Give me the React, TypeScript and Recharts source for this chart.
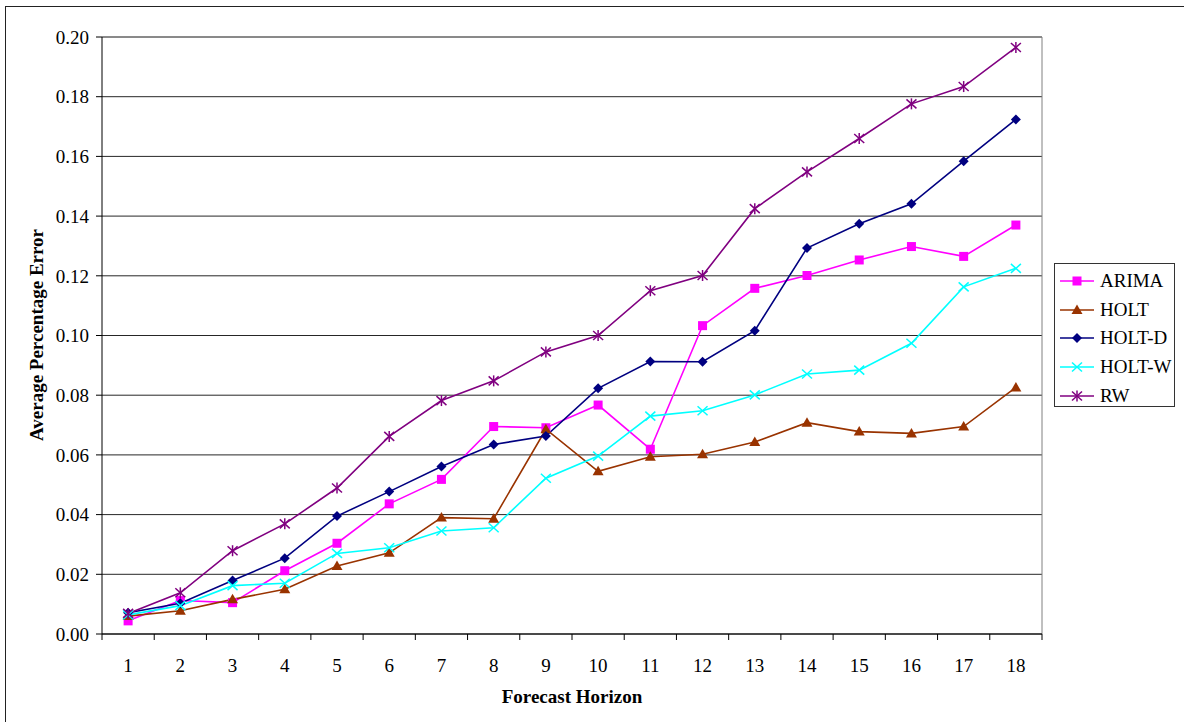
import { LineChart, Line, XAxis, YAxis, CartesianGrid, ReferenceLine } from 'recharts';

// forecast horizons on the x axis
const HORIZON = [1, 2, 3, 4, 5, 6, 7, 8, 9, 10, 11, 12, 13, 14, 15, 16, 17, 18];

// average percentage error per method
const ARIMA = [0.0044, 0.0112, 0.0105, 0.0212, 0.0304, 0.0436, 0.0518, 0.0695, 0.0691, 0.0767, 0.0619, 0.1033, 0.1158, 0.1201, 0.1253, 0.1298, 0.1265, 0.137];
const HOLT = [0.006, 0.0078, 0.0116, 0.015, 0.0228, 0.0272, 0.039, 0.0386, 0.0686, 0.0545, 0.0594, 0.0602, 0.0643, 0.0708, 0.0678, 0.0672, 0.0695, 0.0826];
const HOLT_D = [0.0071, 0.0103, 0.0179, 0.0254, 0.0395, 0.0477, 0.0561, 0.0635, 0.0663, 0.0823, 0.0913, 0.0912, 0.1016, 0.1293, 0.1374, 0.1441, 0.1584, 0.1724];
const HOLT_W = [0.0064, 0.0095, 0.0162, 0.017, 0.027, 0.0289, 0.0345, 0.0356, 0.0522, 0.0596, 0.073, 0.0748, 0.0801, 0.0871, 0.0884, 0.0974, 0.1163, 0.1225];
const RW = [0.0069, 0.0138, 0.0279, 0.0369, 0.0489, 0.0662, 0.0782, 0.0848, 0.0945, 0.1, 0.115, 0.1201, 0.1425, 0.1548, 0.166, 0.1776, 0.1834, 0.1965];

const Y_TICKS = [0, 0.02, 0.04, 0.06, 0.08, 0.1, 0.12, 0.14, 0.16, 0.18, 0.2];

const data = HORIZON.map((h, i) => ({
  h,
  ARIMA: ARIMA[i],
  HOLT: HOLT[i],
  'HOLT-D': HOLT_D[i],
  'HOLT-W': HOLT_W[i],
  RW: RW[i],
}));

const W = 1184;
const H = 722;
const PLOT_LEFT = 102;
const PLOT_RIGHT = 1042;
const PLOT_BOTTOM = 634;
const BAND = (PLOT_RIGHT - PLOT_LEFT) / HORIZON.length;
const FONT = "'Liberation Serif', 'Times New Roman', serif";
const FS = 19;

type Shape = 'square' | 'triangle' | 'diamond' | 'cross' | 'star';

const SERIES: { key: string; color: string; shape: Shape }[] = [
  { key: 'ARIMA', color: '#FF00FF', shape: 'square' },
  { key: 'HOLT', color: '#993300', shape: 'triangle' },
  { key: 'HOLT-D', color: '#000080', shape: 'diamond' },
  { key: 'HOLT-W', color: '#00FFFF', shape: 'cross' },
  { key: 'RW', color: '#800080', shape: 'star' },
];

function Marker({ cx, cy, shape, color }: { cx: number; cy: number; shape: Shape; color: string }) {
  switch (shape) {
    case 'square':
      return <rect x={cx - 4.5} y={cy - 4.5} width={9} height={9} fill={color} />;
    case 'triangle':
      return <polygon points={`${cx},${cy - 5.5} ${cx - 5.5},${cy + 4} ${cx + 5.5},${cy + 4}`} fill={color} />;
    case 'diamond':
      return <polygon points={`${cx},${cy - 5} ${cx + 5},${cy} ${cx},${cy + 5} ${cx - 5},${cy}`} fill={color} />;
    case 'cross':
      return (
        <g stroke={color} strokeWidth={1.5}>
          <line x1={cx - 5} y1={cy - 4.5} x2={cx + 5} y2={cy + 4.5} />
          <line x1={cx - 5} y1={cy + 4.5} x2={cx + 5} y2={cy - 4.5} />
        </g>
      );
    default:
      return (
        <g stroke={color} strokeWidth={1.5}>
          <line x1={cx - 5} y1={cy - 4.5} x2={cx + 5} y2={cy + 4.5} />
          <line x1={cx - 5} y1={cy + 4.5} x2={cx + 5} y2={cy - 4.5} />
          <line x1={cx} y1={cy - 5.5} x2={cx} y2={cy + 5.5} />
        </g>
      );
  }
}

// category label plus the tick marks that sit between categories
function XTick({ x, payload }: any) {
  const last = payload.value === HORIZON[HORIZON.length - 1];
  return (
    <g>
      <line x1={x - BAND / 2} y1={PLOT_BOTTOM} x2={x - BAND / 2} y2={PLOT_BOTTOM + 6} stroke="#000" />
      {last && <line x1={x + BAND / 2} y1={PLOT_BOTTOM} x2={x + BAND / 2} y2={PLOT_BOTTOM + 6} stroke="#000" />}
      <text x={x} y={PLOT_BOTTOM + 38} textAnchor="middle" fontSize={FS} fontFamily={FONT} fill="#000">
        {payload.value}
      </text>
    </g>
  );
}

export default function App() {
  return (
    <div style={{ position: 'fixed', left: 0, top: 0, width: W, height: H, overflow: 'hidden', background: '#fff' }}>
      <div style={{ position: 'absolute', left: 5, top: 6, width: W + 50, height: H + 50, border: '1px solid #222' }} />
      <div style={{ position: 'absolute', left: 0, top: 0 }}>
        <LineChart width={W} height={H} data={data} margin={{ top: 37, right: W - PLOT_RIGHT, bottom: 48, left: 42 }}>
          <CartesianGrid vertical={false} stroke="#000" strokeOpacity={0.85} />
          <XAxis
            dataKey="h"
            type="number"
            domain={[0.5, 18.5]}
            ticks={HORIZON}
            interval={0}
            height={40}
            tick={<XTick />}
            tickLine={false}
            axisLine={{ stroke: '#000' }}
          />
          <YAxis
            width={60}
            domain={[0, 0.2]}
            ticks={Y_TICKS}
            interval={0}
            tickFormatter={(v: number) => v.toFixed(2)}
            tick={{ fontSize: FS, fontFamily: FONT, fill: '#000' }}
            tickSize={6}
            tickMargin={7}
            tickLine={{ stroke: '#000' }}
            axisLine={{ stroke: '#000' }}
          />
          <ReferenceLine x={18.5} stroke="#808080" />
          <ReferenceLine y={0.2} stroke="#808080" />
          {SERIES.map((s) => (
            <Line
              key={s.key}
              type="linear"
              dataKey={s.key}
              stroke={s.color}
              strokeWidth={1.6}
              isAnimationActive={false}
              dot={(p: any) => <Marker key={`${s.key}-${p.index}`} cx={p.cx} cy={p.cy} shape={s.shape} color={s.color} />}
              activeDot={false}
            />
          ))}
        </LineChart>
      </div>
      <div
        style={{
          position: 'absolute',
          left: 37,
          top: 335,
          transform: 'translate(-50%, -50%) rotate(-90deg)',
          whiteSpace: 'nowrap',
          fontFamily: FONT,
          fontWeight: 'bold',
          fontSize: FS,
        }}
      >
        Average Percentage Error
      </div>
      <div
        style={{
          position: 'absolute',
          left: 572,
          top: 697,
          transform: 'translate(-50%, -50%)',
          whiteSpace: 'nowrap',
          fontFamily: FONT,
          fontWeight: 'bold',
          fontSize: FS,
        }}
      >
        Forecast Horizon
      </div>
      <div
        style={{
          position: 'absolute',
          left: 1054,
          top: 263,
          width: 121,
          height: 144,
          boxSizing: 'border-box',
          border: '1px solid #333',
          background: '#fff',
        }}
      >
        {SERIES.map((s, i) => (
          <div key={s.key} style={{ position: 'absolute', left: 5, top: 5 + i * 28.7, height: 24, display: 'flex', alignItems: 'center' }}>
            <svg width={34} height={16}>
              <line x1={0} y1={8} x2={34} y2={8} stroke={s.color} strokeWidth={1.6} />
              <Marker cx={17} cy={8} shape={s.shape} color={s.color} />
            </svg>
            <span style={{ marginLeft: 6, fontFamily: FONT, fontSize: FS, color: '#000' }}>{s.key}</span>
          </div>
        ))}
      </div>
    </div>
  );
}
